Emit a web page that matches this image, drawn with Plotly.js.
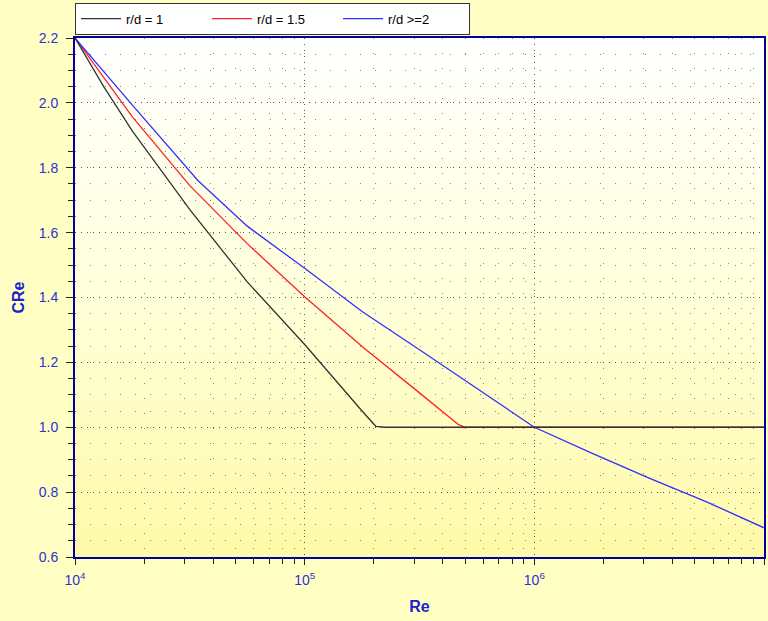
<!DOCTYPE html>
<html>
<head>
<meta charset="utf-8">
<script src="https://cdn.plot.ly/plotly-3.0.1.min.js"></script>
<style>html,body{margin:0;padding:0;background:#FFFFC4;}#chart{width:768px;height:621px;}</style>
</head>
<body>
<div id="chart"></div>
<script>
// Series names
var seriesNames = ["r/d = 1", "r/d = 1.5", "r/d >=2"];
var seriesColors = ["#333333", "#FF2020", "#3030FF"];

// r/d = 1
var re1  = [1e4, 1.334e4, 1.778e4, 3.162e4, 5.623e4, 1e5,  1.778e5, 2.04e5, 2.24e5, 1e7];
var cre1 = [2.2, 2.05,    1.913,   1.671,   1.448,   1.255, 1.05,   1.003,  1.0,    1.0];

// r/d = 1.5
var re2  = [1e4, 1.334e4, 1.778e4, 3.162e4, 5.623e4, 1e5, 1.778e5, 3.162e5, 4.467e5, 4.677e5, 5.012e5, 1e7];
var cre2 = [2.2, 2.077,   1.957,   1.745,   1.566,   1.402, 1.249, 1.106,   1.021,   1.008,   1.0,     1.0];

// r/d >= 2
var re3  = [1e4, 1.778e4, 3.436e4, 5.623e4, 1e5,  1.778e5, 3.162e5, 5.623e5, 1e6, 1.778e6, 3.162e6, 5.623e6, 1e7];
var cre3 = [2.2, 1.993,   1.76,    1.62,    1.49, 1.357,   1.239,   1.119,   1.0, 0.92,    0.843,   0.77,    0.69];

// Tick labels
var xTickVals = [1e4, 1e5, 1e6, 1e7];
var xTickText = ["10<sup>4</sup>", "10<sup>5</sup>", "10<sup>6</sup>", "10<sup>7</sup>"];
var yTickVals = [0.6, 0.8, 1.0, 1.2, 1.4, 1.6, 1.8, 2.0, 2.2];
var yTickText = ["0.6", "0.8", "1.0", "1.2", "1.4", "1.6", "1.8", "2.0", "2.2"];

var xs = [re1, re2, re3], ys = [cre1, cre2, cre3];
var traces = xs.map(function (x, i) {
  return {x: x, y: ys[i], type: "scatter", mode: "lines", name: seriesNames[i],
          legendrank: i + 1,
          line: {color: seriesColors[i], width: 1.3}};
});
// draw black on top so the shared flat segment looks dark
traces = [traces[1], traces[2], traces[0]];

var grad = 'data:image/svg+xml;utf8,' + encodeURIComponent(
  '<svg xmlns="http://www.w3.org/2000/svg" width="100" height="100" preserveAspectRatio="none">' +
  '<defs><linearGradient id="g" x1="0" y1="0" x2="0" y2="1">' +
  '<stop offset="0" stop-color="#FFFFFF"/><stop offset="0.5" stop-color="#FFFFDA"/><stop offset="1" stop-color="#FFFAA8"/>' +
  '</linearGradient></defs><rect width="100" height="100" fill="url(#g)"/></svg>');

var tickFont = {family: "Arial, Liberation Sans, sans-serif", size: 14, color: "#3030D0"};
var titleFont = {family: "Arial, Liberation Sans, sans-serif", size: 16, color: "#2020CC", weight: "bold"};

var layout = {
  width: 768, height: 621,
  margin: {l: 75, r: 4, t: 37, b: 64, pad: 0},
  paper_bgcolor: "#FFFFC4",
  plot_bgcolor: "rgba(0,0,0,0)",
  images: [{source: grad, xref: "paper", yref: "paper", x: 0, y: 1, sizex: 1, sizey: 1,
            sizing: "stretch", layer: "below", xanchor: "left", yanchor: "top"}],
  showlegend: true,
  legend: {orientation: "h", x: 0, xanchor: "left", y: 1.066, yanchor: "top",
           bgcolor: "#FFFFFF", bordercolor: "#333333", borderwidth: 1,
           font: {family: "Arial, Liberation Sans, sans-serif", size: 13, color: "#000000"},
           itemwidth: 40, entrywidth: 76, entrywidthmode: "pixels", traceorder: "normal"},
  xaxis: {type: "log", range: [4, 7], tickvals: xTickVals, ticktext: xTickText,
          tickfont: tickFont, showline: true, linecolor: "#0000A0", linewidth: 2,
          mirror: true, ticks: "outside", ticklen: 6, tickcolor: "#222222", tickwidth: 1,
          ticklabelstandoff: 3,
          showgrid: true, gridcolor: "#555555", gridwidth: 1, griddash: "1px,5px",
          minor: {dtick: "D1", ticks: "outside", ticklen: 5, tickcolor: "#222222",
                  showgrid: true, gridcolor: "#888888", griddash: "1px,14px"},
          zeroline: false,
          title: {text: "Re", font: titleFont, standoff: 14}},
  xaxis2: {type: "log", range: [4, 7], overlaying: "x", side: "top", anchor: "y",
           showticklabels: false, showgrid: false, zeroline: false, showline: false,
           ticks: "inside", ticklen: 5, tickcolor: "#222222", tickvals: xTickVals,
           minor: {dtick: "D1", ticks: "inside", ticklen: 4, tickcolor: "#222222", showgrid: false}},
  yaxis: {range: [0.6, 2.2], tickvals: yTickVals, ticktext: yTickText,
          tickfont: tickFont, showline: true, linecolor: "#0000A0", linewidth: 2,
          mirror: true, ticks: "outside", ticklen: 7, tickcolor: "#222222", tickwidth: 1,
          ticklabelstandoff: 5,
          showgrid: true, gridcolor: "#555555", gridwidth: 1, griddash: "1px,5px",
          minor: {dtick: 0.05, ticks: "outside", ticklen: 5, tickcolor: "#222222",
                  showgrid: true, gridcolor: "#888888", griddash: "1px,14px"},
          zeroline: false,
          title: {text: "CRe", font: titleFont, standoff: 10}},
  yaxis2: {range: [0.6, 2.2], overlaying: "y", side: "right", anchor: "x",
           showticklabels: false, showgrid: false, zeroline: false, showline: false,
           ticks: "inside", ticklen: 5, tickcolor: "#222222", tickvals: yTickVals,
           minor: {dtick: 0.05, ticks: "inside", ticklen: 4, tickcolor: "#222222", showgrid: false}}
};

Plotly.newPlot("chart", traces, layout, {displayModeBar: false, staticPlot: true});
</script>
</body>
</html>
